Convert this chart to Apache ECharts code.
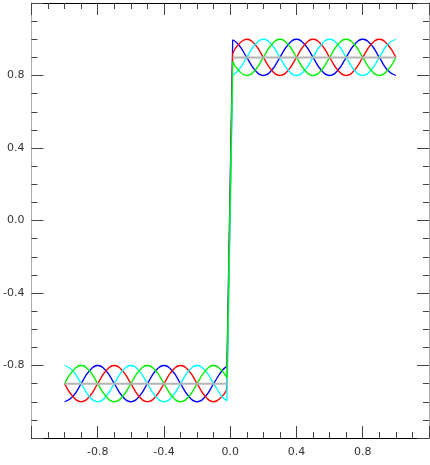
<!DOCTYPE html>
<html>
<head>
<meta charset="utf-8">
<script src="https://cdn.jsdelivr.net/npm/echarts@6/dist/echarts.min.js"></script>
<style>
    html, body { margin: 0; padding: 0; background: #fff; }
    #chart { width: 430px; height: 465px; }
</style>
</head>
<body>
<div id="chart"></div>
<script>
// x samples, left half (-1 .. 0) and right half (0 .. 1)
var XLeft = [-1.00,-0.95,-0.90,-0.85,-0.80,-0.75,-0.70,-0.65,-0.60,-0.55,-0.50,-0.45,-0.40,-0.35,-0.30,-0.25,-0.20,-0.15,-0.10,-0.05,-0.02];
var XRight = [0.015,0.05,0.10,0.15,0.20,0.25,0.30,0.35,0.40,0.45,0.50,0.55,0.60,0.65,0.70,0.75,0.80,0.85,0.90,0.95,1.00];

var BlueLeft  = [-1.0,-0.971,-0.9,-0.829,-0.8,-0.829,-0.9,-0.971,-1.0,-0.971,-0.9,-0.829,-0.8,-0.829,-0.9,-0.971,-1.0,-0.971,-0.9,-0.829,-0.805];
var RedLeft   = [-0.9,-0.971,-1.0,-0.971,-0.9,-0.829,-0.8,-0.829,-0.9,-0.971,-1.0,-0.971,-0.9,-0.829,-0.8,-0.829,-0.9,-0.971,-1.0,-0.971,-0.931];
var CyanLeft  = [-0.8,-0.829,-0.9,-0.971,-1.0,-0.971,-0.9,-0.829,-0.8,-0.829,-0.9,-0.971,-1.0,-0.971,-0.9,-0.829,-0.8,-0.829,-0.9,-0.971,-0.995];
var GreenLeft = [-0.9,-0.829,-0.8,-0.829,-0.9,-0.971,-1.0,-0.971,-0.9,-0.829,-0.8,-0.829,-0.9,-0.971,-1.0,-0.971,-0.9,-0.829,-0.8,-0.829,-0.869];
var MeanLeft  = [-0.9,-0.9,-0.9,-0.9,-0.9,-0.9,-0.9,-0.9,-0.9,-0.9,-0.9,-0.9,-0.9,-0.9,-0.9,-0.9,-0.9,-0.9,-0.9,-0.9,-0.9];

var BlueRight  = [0.997,0.971,0.9,0.829,0.8,0.829,0.9,0.971,1.0,0.971,0.9,0.829,0.8,0.829,0.9,0.971,1.0,0.971,0.9,0.829,0.8];
var RedRight   = [0.923,0.971,1.0,0.971,0.9,0.829,0.8,0.829,0.9,0.971,1.0,0.971,0.9,0.829,0.8,0.829,0.9,0.971,1.0,0.971,0.9];
var CyanRight  = [0.803,0.829,0.9,0.971,1.0,0.971,0.9,0.829,0.8,0.829,0.9,0.971,1.0,0.971,0.9,0.829,0.8,0.829,0.9,0.971,1.0];
var GreenRight = [0.877,0.829,0.8,0.829,0.9,0.971,1.0,0.971,0.9,0.829,0.8,0.829,0.9,0.971,1.0,0.971,0.9,0.829,0.8,0.829,0.9];
var MeanRight  = [0.9,0.9,0.9,0.9,0.9,0.9,0.9,0.9,0.9,0.9,0.9,0.9,0.9,0.9,0.9,0.9,0.9,0.9,0.9,0.9,0.9];

(function(){
    var myChart = echarts.init(document.getElementById('chart'));

    function pairs(xs, ys) {
        return xs.map(function(x, i) { return [x, ys[i]]; });
    }
    function fmt(v) {
        if (Math.abs(v) < 1e-9) return '0.0';
        return v.toFixed(1);
    }

    var curves = [
        { color: '#0000ff', left: BlueLeft,  right: BlueRight },
        { color: '#ff0000', left: RedLeft,   right: RedRight },
        { color: '#00ffff', left: CyanLeft,  right: CyanRight },
        { color: '#00f000', left: GreenLeft, right: GreenRight }
    ];

    var series = [];
    curves.forEach(function(c, k) {
        var base = { type: 'line', symbol: 'none', silent: true, z: 2 + k,
                     lineStyle: { color: c.color, width: 1.3 } };
        series.push(Object.assign({}, base, { smooth: true, data: pairs(XLeft, c.left) }));
        series.push(Object.assign({}, base, { smooth: true, data: pairs(XRight, c.right) }));
        // vertical jump at x = 0
        series.push(Object.assign({}, base, { data: [
            [XLeft[XLeft.length - 1], c.left[c.left.length - 1]],
            [XRight[0], c.right[0]]
        ] }));
    });
    series.push({ type: 'line', symbol: 'none', silent: true, z: 10,
                  lineStyle: { color: '#b4b4b4', width: 2 }, data: pairs(XLeft, MeanLeft) });
    series.push({ type: 'line', symbol: 'none', silent: true, z: 10,
                  lineStyle: { color: '#b4b4b4', width: 2 }, data: pairs(XRight, MeanRight) });

    var labelStyle = { fontFamily: 'DejaVu Sans', fontSize: 11, color: '#333' };

    function axis(pos, lineColor, showLabel, margin) {
        return {
            type: 'value',
            position: pos,
            min: -1.2,
            max: 1.2,
            interval: 0.4,
            splitLine: { show: false },
            axisLine: { show: true, onZero: false, lineStyle: { color: lineColor, width: 1 } },
            axisTick: { show: true, inside: true, length: 12, lineStyle: { color: '#444' } },
            minorTick: { show: true, splitNumber: 4, length: 6, lineStyle: { color: '#444' } },
            axisLabel: Object.assign({ show: showLabel, margin: margin, formatter: fmt,
                                       showMinLabel: false, showMaxLabel: false }, labelStyle)
        };
    }

    var option = {
        backgroundColor: '#fff',
        animation: false,
        grid: { left: 31, right: 1, top: 3, bottom: 27 },
        xAxis: [axis('bottom', '#000', true, 9), axis('top', '#000', false, 0)],
        yAxis: [axis('left', '#aaa', true, 7), axis('right', '#aaa', false, 0)],
        series: series
    };
    myChart.setOption(option);
    window.addEventListener('resize', function() {
        myChart.resize();
    })
})();
</script>
</body>
</html>
